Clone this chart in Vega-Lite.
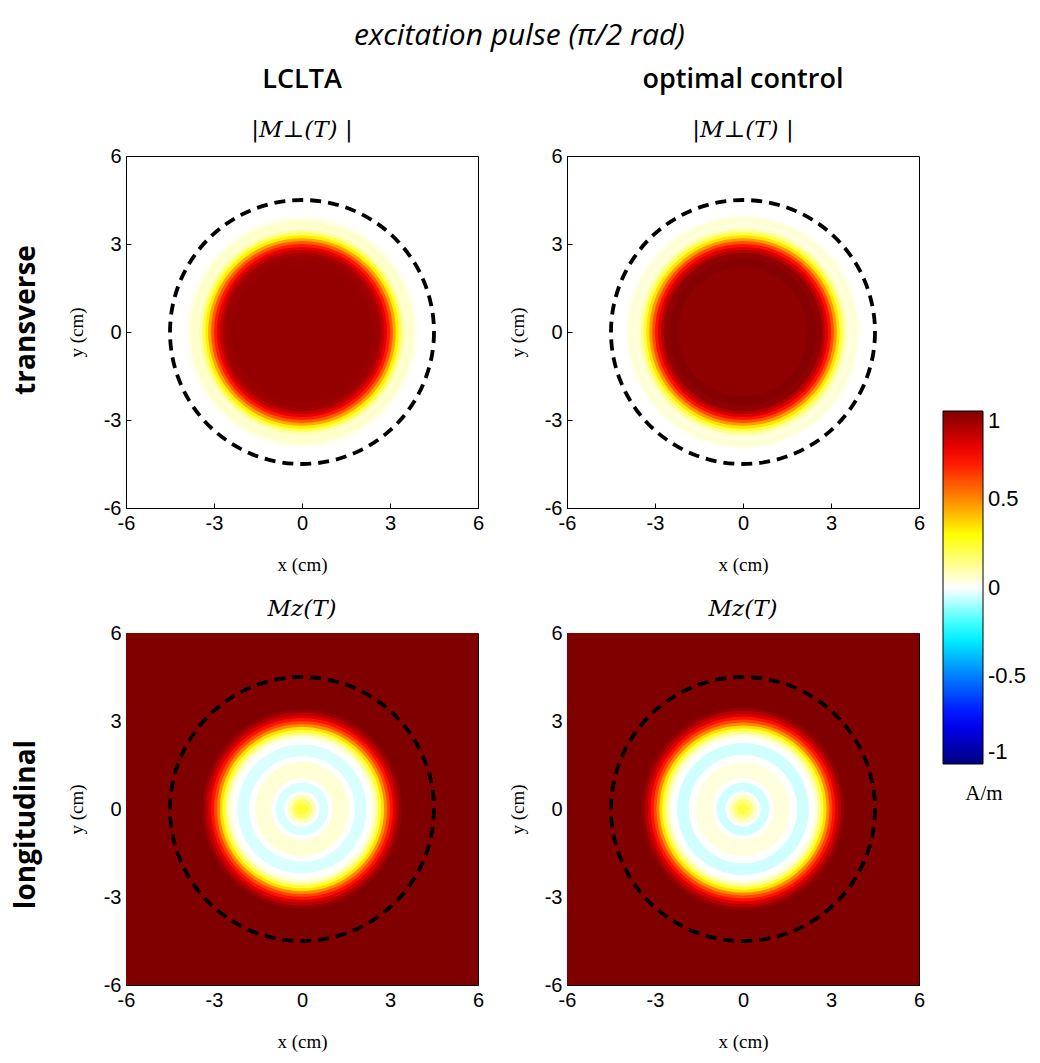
{
  "$schema": "https://vega.github.io/schema/vega-lite/v6.json",
  "padding": {"left": 12, "top": 20, "right": 5, "bottom": 5},
  "background": "white",
  "title": {"text": "excitation pulse (π/2 rad)", "font": "Open Sans", "fontStyle": "italic", "fontWeight": "normal", "fontSize": 30, "anchor": "middle", "offset": 15, "color": "black"},
  "datasets": {
    "tl": [
      {"r": 2.4, "v": 0.96}, {"r": 2.6, "v": 0.95}, {"r": 2.7, "v": 0.93}, {"r": 2.8, "v": 0.88},
      {"r": 2.9, "v": 0.8}, {"r": 3.0, "v": 0.7}, {"r": 3.1, "v": 0.58}, {"r": 3.2, "v": 0.45},
      {"r": 3.3, "v": 0.32}, {"r": 3.4, "v": 0.2}, {"r": 3.5, "v": 0.1}, {"r": 3.6, "v": 0.05},
      {"r": 3.8, "v": 0.06}, {"r": 3.9, "v": 0.03}, {"r": 4.0, "v": 0.01}
    ],
    "tr": [
      {"r": 2.2, "v": 0.97}, {"r": 2.5, "v": 0.99}, {"r": 2.7, "v": 0.97}, {"r": 2.8, "v": 0.9},
      {"r": 2.9, "v": 0.82}, {"r": 3.0, "v": 0.72}, {"r": 3.1, "v": 0.6}, {"r": 3.2, "v": 0.47},
      {"r": 3.3, "v": 0.34}, {"r": 3.4, "v": 0.22}, {"r": 3.5, "v": 0.12}, {"r": 3.6, "v": 0.06},
      {"r": 3.7, "v": 0.03}, {"r": 3.9, "v": 0.05}, {"r": 4.0, "v": 0.02}
    ],
    "bl": [
      {"r": 0.2, "v": 0.24}, {"r": 0.35, "v": 0.17}, {"r": 0.5, "v": 0.07}, {"r": 0.6, "v": 0.0},
      {"r": 0.9, "v": -0.04}, {"r": 1.05, "v": 0.0}, {"r": 1.6, "v": 0.05}, {"r": 1.8, "v": 0.0},
      {"r": 2.2, "v": -0.04}, {"r": 2.4, "v": 0.0}, {"r": 2.5, "v": 0.05}, {"r": 2.6, "v": 0.12},
      {"r": 2.7, "v": 0.24}, {"r": 2.8, "v": 0.35}, {"r": 2.9, "v": 0.5}, {"r": 3.0, "v": 0.62},
      {"r": 3.1, "v": 0.72}, {"r": 3.2, "v": 0.82}, {"r": 3.3, "v": 0.9}, {"r": 3.4, "v": 0.96},
      {"r": 8.6, "v": 1.0}
    ],
    "br": [
      {"r": 0.2, "v": 0.22}, {"r": 0.35, "v": 0.15}, {"r": 0.5, "v": 0.06}, {"r": 0.6, "v": 0.0},
      {"r": 0.9, "v": -0.05}, {"r": 1.05, "v": 0.0}, {"r": 1.6, "v": 0.04}, {"r": 1.85, "v": 0.0},
      {"r": 2.25, "v": -0.05}, {"r": 2.45, "v": 0.0}, {"r": 2.55, "v": 0.05}, {"r": 2.65, "v": 0.12},
      {"r": 2.75, "v": 0.24}, {"r": 2.85, "v": 0.35}, {"r": 2.95, "v": 0.5}, {"r": 3.05, "v": 0.62},
      {"r": 3.15, "v": 0.72}, {"r": 3.25, "v": 0.82}, {"r": 3.35, "v": 0.9}, {"r": 3.45, "v": 0.96},
      {"r": 8.6, "v": 1.0}
    ],
    "circle": [{"r": 4.5}]
  },
  "vconcat": [
    {
      "title": {"text": "transverse", "orient": "left", "anchor": "middle", "font": "Open Sans", "fontWeight": "bold", "fontSize": 28, "offset": 26, "color": "black"},
      "hconcat": [
        {
          "width": 352, "height": 352,
          "title": {"text": "LCLTA", "subtitle": "|M⊥(T) |", "font": "Open Sans", "fontWeight": 600, "fontSize": 27, "subtitleFont": "DejaVu Serif", "subtitleFontStyle": "italic", "subtitleFontSize": 23, "subtitlePadding": 25, "offset": 3, "anchor": "middle", "color": "black", "subtitleColor": "black"},
          "layer": [
            {
              "data": {"name": "tl"},
              "mark": {"type": "point", "shape": "circle", "filled": true, "opacity": 1, "strokeWidth": 0, "clip": true},
              "encoding": {
                "x": {"datum": 0, "type": "quantitative", "scale": {"domain": [-6, 6], "nice": false, "zero": false}, "axis": {"values": [-6, -3, 0, 3, 6], "title": "x (cm)", "labelExpr": "datum.value"}},
                "y": {"datum": 0, "type": "quantitative", "scale": {"domain": [-6, 6], "nice": false, "zero": false}, "axis": {"values": [-6, -3, 0, 3, 6], "title": "y (cm)", "labelExpr": "datum.value"}},
                "size": {"field": "r", "type": "quantitative", "scale": {"type": "pow", "exponent": 2, "domain": [0, 6], "range": [0, 123904], "nice": false, "zero": true}, "legend": null},
                "color": {"field": "v", "type": "quantitative", "scale": {"type": "linear", "interpolate": "rgb", "domain": [-1, -0.75, -0.5, -0.27, 0, 0.3, 0.5, 0.75, 1], "range": ["#000080", "#0000ff", "#0080ff", "#00ffff", "#ffffff", "#ffff00", "#ff8800", "#ff0000", "#800000"]}, "legend": {"orient": "none", "legendX": 817, "legendY": 255, "direction": "vertical", "gradientLength": 353, "gradientThickness": 40, "values": [-1, -0.5, 0, 0.5, 1], "labelExpr": "datum.value", "labelFont": "Liberation Sans", "labelFontSize": 22, "labelColor": "black", "labelOffset": 5, "title": "A/m", "titleOrient": "bottom", "titleAnchor": "middle", "titleFont": "Liberation Serif", "titleFontSize": 21, "titleFontWeight": "normal", "titleColor": "black", "titlePadding": 18, "gradientStrokeColor": "black", "gradientStrokeWidth": 1}},
                "order": {"field": "r", "sort": "descending"}
              }
            },
            {
              "data": {"name": "circle"},
              "mark": {"type": "point", "shape": "circle", "filled": false, "opacity": 1, "stroke": "black", "strokeWidth": 3.8, "strokeDash": [11, 7], "clip": true},
              "encoding": {
                "x": {"datum": 0, "type": "quantitative"},
                "y": {"datum": 0, "type": "quantitative"},
                "size": {"field": "r", "type": "quantitative"}
              }
            }
          ]
        },
        {
          "width": 352, "height": 352,
          "title": {"text": "optimal control", "subtitle": "|M⊥(T) |", "font": "Open Sans", "fontWeight": 600, "fontSize": 27, "subtitleFont": "DejaVu Serif", "subtitleFontStyle": "italic", "subtitleFontSize": 23, "subtitlePadding": 25, "offset": 3, "anchor": "middle", "color": "black", "subtitleColor": "black"},
          "layer": [
            {
              "data": {"name": "tr"},
              "mark": {"type": "point", "shape": "circle", "filled": true, "opacity": 1, "strokeWidth": 0, "clip": true},
              "encoding": {
                "x": {"datum": 0, "type": "quantitative", "scale": {"domain": [-6, 6], "nice": false, "zero": false}, "axis": {"values": [-6, -3, 0, 3, 6], "title": "x (cm)", "labelExpr": "datum.value"}},
                "y": {"datum": 0, "type": "quantitative", "scale": {"domain": [-6, 6], "nice": false, "zero": false}, "axis": {"values": [-6, -3, 0, 3, 6], "title": "y (cm)", "labelExpr": "datum.value"}},
                "size": {"field": "r", "type": "quantitative", "scale": {"type": "pow", "exponent": 2, "domain": [0, 6], "range": [0, 123904], "nice": false, "zero": true}, "legend": null},
                "color": {"field": "v", "type": "quantitative", "scale": {"type": "linear", "interpolate": "rgb", "domain": [-1, -0.75, -0.5, -0.27, 0, 0.3, 0.5, 0.75, 1], "range": ["#000080", "#0000ff", "#0080ff", "#00ffff", "#ffffff", "#ffff00", "#ff8800", "#ff0000", "#800000"]}},
                "order": {"field": "r", "sort": "descending"}
              }
            },
            {
              "data": {"name": "circle"},
              "mark": {"type": "point", "shape": "circle", "filled": false, "opacity": 1, "stroke": "black", "strokeWidth": 3.8, "strokeDash": [11, 7], "clip": true},
              "encoding": {
                "x": {"datum": 0, "type": "quantitative"},
                "y": {"datum": 0, "type": "quantitative"},
                "size": {"field": "r", "type": "quantitative"}
              }
            }
          ]
        }
      ],
      "resolve": {"scale": {"color": "shared"}, "legend": {"color": "shared"}}
    },
    {
      "title": {"text": "longitudinal", "orient": "left", "anchor": "middle", "font": "Open Sans", "fontWeight": "bold", "fontSize": 28, "offset": 26, "color": "black"},
      "hconcat": [
        {
          "width": 352, "height": 352,
          "title": {"text": "Mz(T)", "font": "DejaVu Serif", "fontStyle": "italic", "fontWeight": "normal", "fontSize": 23, "offset": 2, "anchor": "middle", "color": "black"},
          "layer": [
            {
              "data": {"name": "bl"},
              "mark": {"type": "point", "shape": "circle", "filled": true, "opacity": 1, "strokeWidth": 0, "clip": true},
              "encoding": {
                "x": {"datum": 0, "type": "quantitative", "scale": {"domain": [-6, 6], "nice": false, "zero": false}, "axis": {"values": [-6, -3, 0, 3, 6], "title": "x (cm)", "labelExpr": "datum.value"}},
                "y": {"datum": 0, "type": "quantitative", "scale": {"domain": [-6, 6], "nice": false, "zero": false}, "axis": {"values": [-6, -3, 0, 3, 6], "title": "y (cm)", "labelExpr": "datum.value"}},
                "size": {"field": "r", "type": "quantitative", "scale": {"type": "pow", "exponent": 2, "domain": [0, 6], "range": [0, 123904], "nice": false, "zero": true}, "legend": null},
                "color": {"field": "v", "type": "quantitative", "scale": {"type": "linear", "interpolate": "rgb", "domain": [-1, -0.75, -0.5, -0.27, 0, 0.3, 0.5, 0.75, 1], "range": ["#000080", "#0000ff", "#0080ff", "#00ffff", "#ffffff", "#ffff00", "#ff8800", "#ff0000", "#800000"]}},
                "order": {"field": "r", "sort": "descending"}
              }
            },
            {
              "data": {"name": "circle"},
              "mark": {"type": "point", "shape": "circle", "filled": false, "opacity": 1, "stroke": "black", "strokeWidth": 3.8, "strokeDash": [11, 7], "clip": true},
              "encoding": {
                "x": {"datum": 0, "type": "quantitative"},
                "y": {"datum": 0, "type": "quantitative"},
                "size": {"field": "r", "type": "quantitative"}
              }
            }
          ]
        },
        {
          "width": 352, "height": 352,
          "title": {"text": "Mz(T)", "font": "DejaVu Serif", "fontStyle": "italic", "fontWeight": "normal", "fontSize": 23, "offset": 2, "anchor": "middle", "color": "black"},
          "layer": [
            {
              "data": {"name": "br"},
              "mark": {"type": "point", "shape": "circle", "filled": true, "opacity": 1, "strokeWidth": 0, "clip": true},
              "encoding": {
                "x": {"datum": 0, "type": "quantitative", "scale": {"domain": [-6, 6], "nice": false, "zero": false}, "axis": {"values": [-6, -3, 0, 3, 6], "title": "x (cm)", "labelExpr": "datum.value"}},
                "y": {"datum": 0, "type": "quantitative", "scale": {"domain": [-6, 6], "nice": false, "zero": false}, "axis": {"values": [-6, -3, 0, 3, 6], "title": "y (cm)", "labelExpr": "datum.value"}},
                "size": {"field": "r", "type": "quantitative", "scale": {"type": "pow", "exponent": 2, "domain": [0, 6], "range": [0, 123904], "nice": false, "zero": true}, "legend": null},
                "color": {"field": "v", "type": "quantitative", "scale": {"type": "linear", "interpolate": "rgb", "domain": [-1, -0.75, -0.5, -0.27, 0, 0.3, 0.5, 0.75, 1], "range": ["#000080", "#0000ff", "#0080ff", "#00ffff", "#ffffff", "#ffff00", "#ff8800", "#ff0000", "#800000"]}},
                "order": {"field": "r", "sort": "descending"}
              }
            },
            {
              "data": {"name": "circle"},
              "mark": {"type": "point", "shape": "circle", "filled": false, "opacity": 1, "stroke": "black", "strokeWidth": 3.8, "strokeDash": [11, 7], "clip": true},
              "encoding": {
                "x": {"datum": 0, "type": "quantitative"},
                "y": {"datum": 0, "type": "quantitative"},
                "size": {"field": "r", "type": "quantitative"}
              }
            }
          ]
        }
      ],
      "resolve": {"scale": {"color": "shared"}, "legend": {"color": "shared"}}
    }
  ],
  "resolve": {"scale": {"color": "shared"}, "legend": {"color": "shared"}},
  "config": {
    "view": {"stroke": "black", "strokeWidth": 1},
    "concat": {"spacing": 22},
    "hconcat": {"spacing": 22},
    "vconcat": {"spacing": 17},
    "axis": {"grid": false, "domainColor": "black", "domainWidth": 1, "tickColor": "black", "tickSize": -5, "tickWidth": 1, "labelFont": "Liberation Sans", "labelFontSize": 20, "labelColor": "black", "labelPadding": 10, "labelFlush": false, "titleFont": "Liberation Serif", "titleFontSize": 19, "titleFontWeight": "normal", "titleColor": "black"},
    "axisX": {"titlePadding": 22},
    "axisY": {"titlePadding": 17}
  }
}
